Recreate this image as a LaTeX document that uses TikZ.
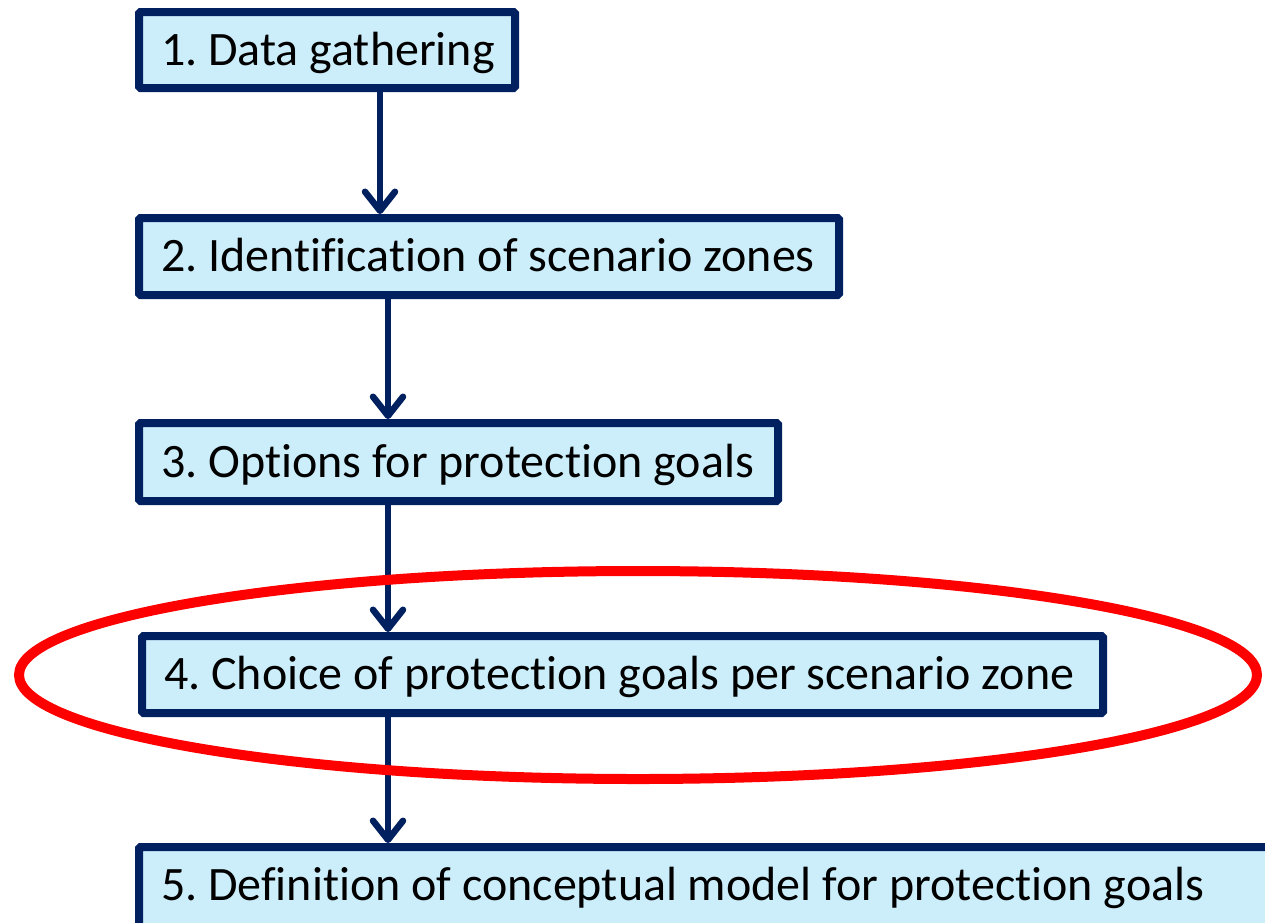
\documentclass[tikz,border=0pt]{standalone}
\usepackage{fontspec}
\setmainfont{Carlito}[Ligatures=NoCommon]
\usetikzlibrary{arrows.meta}
\definecolor{navy}{HTML}{002060}
\definecolor{boxfill}{HTML}{CCEEFA}
\definecolor{ringred}{HTML}{FF0000}
\frenchspacing
\begin{document}
\begin{tikzpicture}[x=1pt,y=-1pt,
  stepbox/.style={draw=navy, fill=boxfill, line width=8pt, rectangle, rounded corners=1.5pt,
    anchor=north west, inner xsep=22pt, inner ysep=0pt,
    text height=38pt, text depth=8pt,
    font=\fontsize{48}{52}\selectfont\frenchspacing},
  flow/.style={draw=navy, line width=6.5pt,
    -{Straight Barb[length=19pt,width=30pt,line cap=round,line join=round]}},
  ring/.style={draw=ringred, line width=10pt}]
\useasboundingbox (0,0) rectangle (1265,922);
\clip (0,0) rectangle (1265,922);
\node[stepbox, minimum width=376pt, minimum height=76pt] (b1) at (135,8) {\makebox[332pt][l]{1. Data gathering}};
\node[stepbox, minimum width=700pt, minimum height=77pt] (b2) at (135,214) {\makebox[656pt][l]{2. Identification of scenario zones}};
\node[stepbox, minimum width=639pt, minimum height=78pt] (b3) at (135,419) {\makebox[595pt][l]{3. Options for protection goals}};
\node[stepbox, minimum width=961pt, minimum height=77pt] (b4) at (138,632) {\makebox[917pt][l]{4. Choice of protection goals per scenario zone}};
\node[stepbox, minimum width=1200pt, minimum height=120pt, text height=38pt, text depth=52pt] (b5) at (135,843) {\makebox[1156pt][l]{5. Definition of conceptual model for protection goals}};
\coordinate (ax1) at (380,0);
\coordinate (ax2) at (388,0);
\draw[flow] (b1.south -| ax1) -- (b2.north -| ax1);
\draw[flow] (b2.south -| ax2) -- (b3.north -| ax2);
\draw[flow] (b3.south -| ax2) -- (b4.north -| ax2);
\draw[flow] (b4.south -| ax2) -- (b5.north -| ax2);
\draw[ring] (638,675) ellipse [x radius=619, y radius=104];
\end{tikzpicture}
\end{document}
